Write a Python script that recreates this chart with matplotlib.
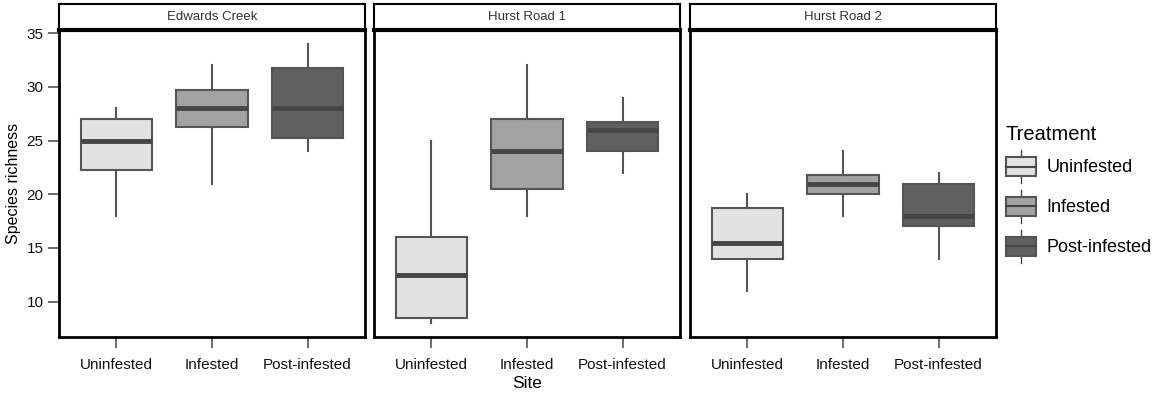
import matplotlib
matplotlib.use("Agg")
import matplotlib.pyplot as plt
from matplotlib.patches import Rectangle
from matplotlib.lines import Line2D
from matplotlib.legend_handler import HandlerBase

plt.rcParams['font.family'] = ['Liberation Sans', 'DejaVu Sans']

sites = ["Edwards Creek", "Hurst Road 1", "Hurst Road 2"]
treatments = ["Uninfested", "Infested", "Post-infested"]
colors = ["#e2e2e2", "#a2a2a2", "#606060"]

# per site: [whislo, q1, med, q3, whishi] for each treatment
edwards = [[18, 22.25, 25, 27, 28], [21, 26.25, 28, 29.75, 32], [24, 25.25, 28, 31.75, 34]]
hurst1 = [[8, 8.5, 12.5, 16, 25], [18, 20.5, 24, 27, 32], [22, 24, 26, 26.7, 29]]
hurst2 = [[11, 14, 15.5, 18.75, 20], [18, 20, 21, 21.75, 24], [14, 17, 18, 21, 22]]
site_data = [edwards, hurst1, hurst2]

yticks = [10, 15, 20, 25, 30, 35]
ylim = (6.7, 35.3)

W, H = 1157, 397
fig = plt.figure(figsize=(W / 100, H / 100), dpi=100)

lefts = [59, 374, 690]
pw = 306
top_plot, bot_plot = 30, 337
strip_top = 4

line_col = "#555555"
for i, (site, data) in enumerate(zip(sites, site_data)):
    ax = fig.add_axes([lefts[i] / W, 1 - bot_plot / H, pw / W, (bot_plot - top_plot) / H])
    stats = []
    for t, d in zip(treatments, data):
        stats.append(dict(whislo=d[0], q1=d[1], med=d[2], q3=d[3], whishi=d[4], label=t, fliers=[]))
    bp = ax.bxp(stats, positions=[1, 2, 3], widths=0.75, patch_artist=True, showcaps=False,
                showfliers=False,
                boxprops=dict(edgecolor="#555555", linewidth=1.5),
                whiskerprops=dict(color=line_col, linewidth=1.5),
                medianprops=dict(color="#454545", linewidth=3.5, solid_capstyle="butt"))
    for patch, c in zip(bp["boxes"], colors):
        patch.set_facecolor(c)
    ax.set_xlim(0.4, 3.6)
    ax.set_ylim(*ylim)
    ax.set_yticks(yticks)
    for s in ax.spines.values():
        s.set_linewidth(2)
        s.set_color("black")
    ax.tick_params(axis="both", length=8, width=1.2, color="#555555", labelsize=11, labelcolor="#111111", pad=3)
    ax.tick_params(axis="x", pad=7)
    if i > 0:
        ax.tick_params(axis="y", left=False, labelleft=False)
    else:
        ax.set_ylabel("Species richness", fontsize=11.5, labelpad=4)
    if i == 1:
        ax.set_xlabel("Site", fontsize=12.5, labelpad=3)
    # strip
    sax = fig.add_axes([lefts[i] / W, 1 - top_plot / H, pw / W, (top_plot - strip_top) / H])
    sax.set_xticks([])
    sax.set_yticks([])
    for s in sax.spines.values():
        s.set_linewidth(1.5)
        s.set_color("black")
    sax.spines["bottom"].set_linewidth(3)
    sax.text(0.5, 0.5, site, ha="center", va="center", fontsize=9.5, color="#333333", transform=sax.transAxes)


class BoxHandler(HandlerBase):
    def __init__(self, color):
        super().__init__()
        self.color = color

    def create_artists(self, legend, orig_handle, xdescent, ydescent, width, height, fontsize, trans):
        cx = -xdescent + width / 2
        cy = -ydescent + height / 2
        bh = 13.7
        wl = Line2D([cx, cx], [cy - bh / 2 - 5, cy + bh / 2 + 5], color="#444444", linewidth=1.0, transform=trans)
        r = Rectangle((-xdescent, cy - bh / 2), width, bh, facecolor=self.color, edgecolor="#555555", linewidth=1.5, transform=trans)
        m = Line2D([-xdescent, -xdescent + width], [cy, cy], color="#454545", linewidth=1.5, transform=trans)
        return [wl, r, m]


handles = [Rectangle((0, 0), 1, 1) for _ in treatments]
leg = fig.legend(handles, treatments, loc="upper left", bbox_to_anchor=(1006 / W, 1 - 125 / H),
                 frameon=False, title="Treatment", fontsize=13, title_fontsize=14.5,
                 handler_map={h: BoxHandler(c) for h, c in zip(handles, colors)},
                 handlelength=1.66, handleheight=2.55, labelspacing=0.3, handletextpad=0.6,
                 borderaxespad=0, borderpad=0)
leg._legend_box.align = "left"

fig.savefig("out.png", dpi=100)
